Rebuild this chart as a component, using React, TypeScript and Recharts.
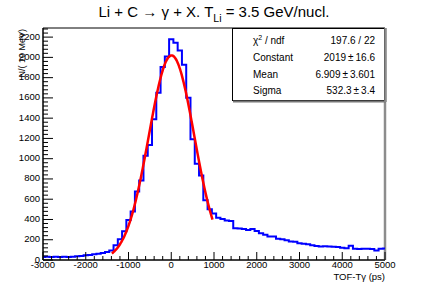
import { ComposedChart, Line, XAxis, YAxis, ReferenceArea, ReferenceLine } from 'recharts'

// TOF - Tgamma histogram, 100 ps bins centred on -3000 ... 5000
const histStart = -3000
const binWidth = 100
const counts = [
  30, 31, 30, 32, 30, 31, 30, 33, 36, 40,
  46, 50, 56, 62, 70, 80, 95, 145, 205, 283,
  394, 479, 675, 785, 1030, 1134, 1389, 1650, 1904, 2008,
  2178, 2145, 2067, 1927, 1601, 1193, 949, 834, 590, 500,
  460, 417, 404, 390, 384, 313, 310, 306, 295, 306,
  287, 264, 250, 232, 232, 210, 205, 195, 183, 180,
  166, 160, 156, 145, 138, 134, 136, 134, 130, 128,
  122, 115, 140, 112, 108, 111, 110, 108, 95, 112,
  114,
]

// gaussian fit, parameters as printed in the stats box
const fitConstant = 2019
const fitMean = 6.909
const fitSigma = 532.3
const fitFrom = -1390
const fitTo = 965

const xMajor = [-3000, -2000, -1000, 0, 1000, 2000, 3000, 4000, 5000]
const yMajor = [0, 200, 400, 600, 800, 1000, 1200, 1400, 1600, 1800, 2000, 2200]

const statNames = ['Constant', 'Mean', 'Sigma']
const statValues = ['2019', '6.909', '532.3']
const statErrors = ['16.6', '3.601', '3.4']
const chi2 = '197.6 / 22'

const W = 428
const H = 290
const FONT = '"Liberation Sans", Arial, Helvetica, sans-serif'

const histData = counts.map((n, i) => ({ x: histStart + i * binWidth, n }))

const fitData: { x: number; f: number }[] = []
for (let x = fitFrom; x <= fitTo; x += 15) {
  const z = (x - fitMean) / fitSigma
  fitData.push({ x, f: fitConstant * Math.exp(-0.5 * z * z) })
}

const xTicks: number[] = []
for (let v = -3000; v <= 5000; v += 200) xTicks.push(v)
const yTicks: number[] = []
for (let v = 0; v <= 2280; v += 40) yTicks.push(v)

function XTick(props: any) {
  const { x, y, payload } = props
  const major = xMajor.includes(payload.value)
  return (
    <g>
      <line x1={x} x2={x} y1={y} y2={y - (major ? 8 : 4)} stroke="#000" strokeWidth={1} />
      {major && (
        <text x={x} y={y + 8} textAnchor="middle" fontSize={9.5} fontFamily={FONT} fill="#000">
          {payload.value}
        </text>
      )}
    </g>
  )
}

function YTick(props: any) {
  const { x, y, payload } = props
  const major = yMajor.includes(payload.value)
  return (
    <g>
      <line x1={x} x2={x + (major ? 10 : 5)} y1={y} y2={y} stroke="#000" strokeWidth={1} />
      {major && (
        <text x={x - 3} y={y + 2.5} textAnchor="end" fontSize={9.5} fontFamily={FONT} fill="#000">
          {payload.value}
        </text>
      )}
    </g>
  )
}

export default function App() {
  return (
    <div style={{ position: 'fixed', left: 0, top: 0, width: W, height: H, background: '#fff' }}>
      <ComposedChart width={W} height={H} margin={{ top: 28, right: 43, left: 0, bottom: 0 }}>
        <XAxis
          dataKey="x"
          type="number"
          domain={[-3000, 5000]}
          ticks={xTicks}
          interval={0}
          allowDataOverflow
          height={30}
          tickSize={0}
          tickMargin={0}
          tickLine={false}
          axisLine={{ stroke: '#000', strokeWidth: 1 }}
          tick={(p: any) => <XTick {...p} />}
        />
        <YAxis
          type="number"
          domain={[0, 2290]}
          ticks={yTicks}
          interval={0}
          allowDataOverflow
          width={43}
          tickSize={0}
          tickMargin={0}
          tickLine={false}
          axisLine={{ stroke: '#000', strokeWidth: 1 }}
          tick={(p: any) => <YTick {...p} />}
        />
        <ReferenceArea x1={-3000} x2={5000} y1={0} y2={2290} fill="none" stroke="#000" strokeWidth={1} />
        <ReferenceLine x={5000} stroke="#8c8c8c" strokeWidth={2.5} />
        <Line
          data={histData}
          dataKey="n"
          type="step"
          stroke="#0000ff"
          strokeWidth={2}
          dot={false}
          isAnimationActive={false}
        />
        <Line
          data={fitData}
          dataKey="f"
          type="monotone"
          stroke="#ff0000"
          strokeWidth={2.5}
          dot={false}
          isAnimationActive={false}
        />
      </ComposedChart>

      <svg
        width={W}
        height={H}
        style={{ position: 'absolute', left: 0, top: 0, pointerEvents: 'none' }}
        fontFamily={FONT}
      >
        <text x={214} y={17} textAnchor="middle" fontSize={15} fill="#000">
          Li + C → γ + X. T
          <tspan fontSize={10.5} dy={5}>Li</tspan>
          <tspan dy={-5}> = 3.5 GeV/nucl.</tspan>
        </text>

        <text
          transform="translate(25,29) rotate(-90)"
          textAnchor="end"
          fontSize={9}
          fill="#000"
        >
          N/( 10 MeV)
        </text>
        <text x={385} y={280} textAnchor="end" fontSize={9.5} fill="#000">
          TOF-Tγ (ps)
        </text>

        {/* stats box */}
        <rect x={232.5} y={28.5} width={152} height={72} fill="#fff" stroke="#000" strokeWidth={1} />
        <line x1={233} x2={386} y1={101.5} y2={101.5} stroke="#777" strokeWidth={2} />
        <line x1={385.5} x2={385.5} y1={28} y2={102} stroke="#8c8c8c" strokeWidth={2.5} />
        <text x={253} y={44} fontSize={10} fill="#000">
          χ<tspan fontSize={7} dy={-4}>2</tspan>
          <tspan dy={4}> / ndf</tspan>
        </text>
        <text x={375} y={44} textAnchor="end" fontSize={10} fill="#000">
          {chi2}
        </text>
        {statNames.map((name, i) => (
          <g key={name}>
            <text x={253} y={61 + i * 16.5} fontSize={10} fill="#000">
              {name}
            </text>
            <text x={375} y={61 + i * 16.5} textAnchor="end" fontSize={10} fill="#000">
              {statValues[i]}{'\u2009±\u2009'}{statErrors[i]}
            </text>
          </g>
        ))}
      </svg>
    </div>
  )
}
